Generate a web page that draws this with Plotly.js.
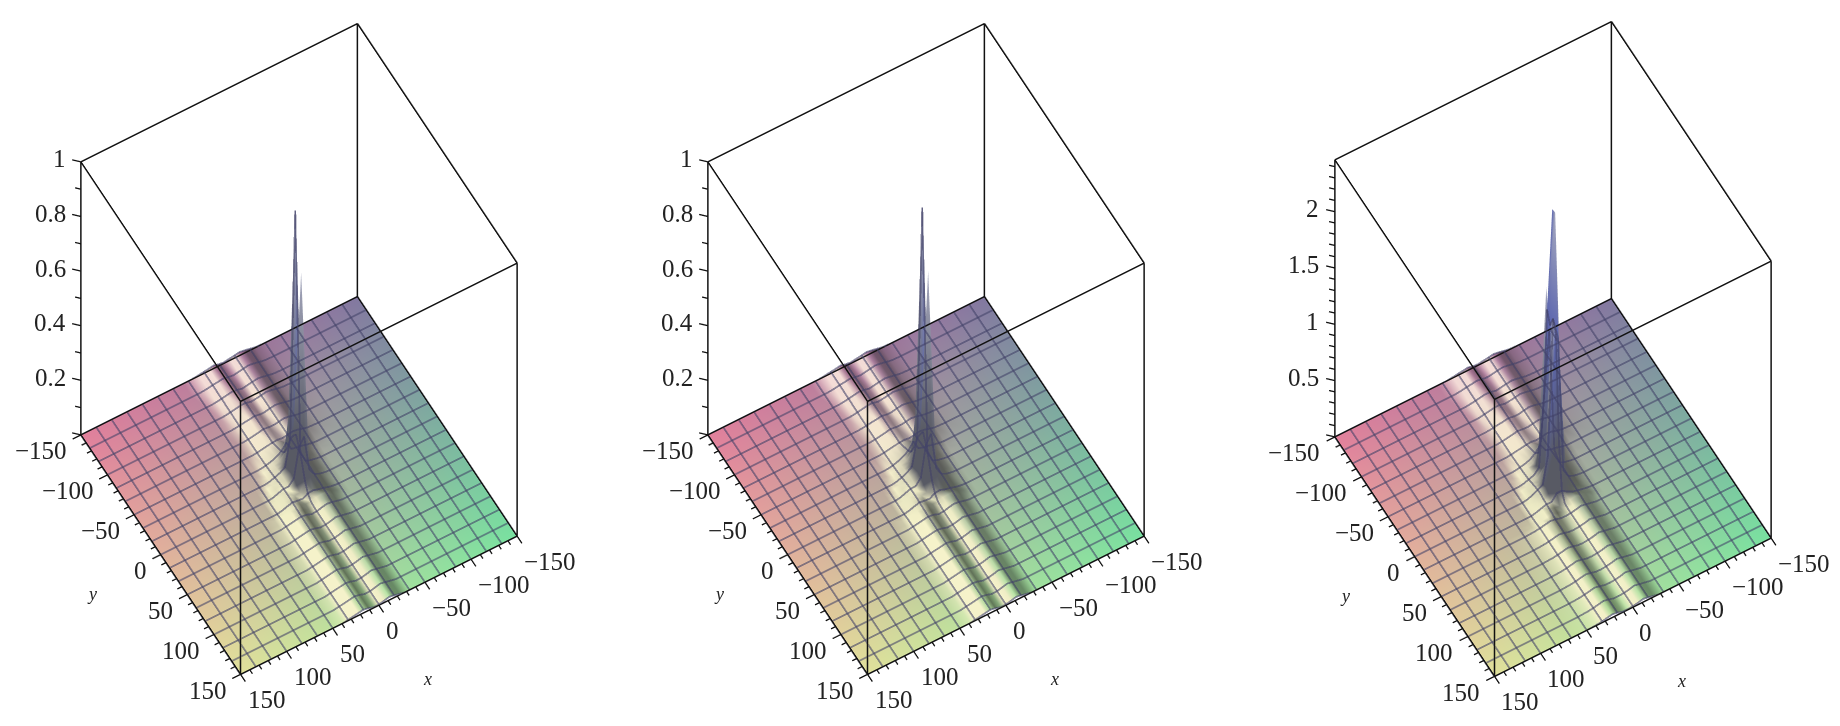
<!DOCTYPE html>
<html><head><meta charset="utf-8">
<script src="https://cdn.plot.ly/plotly-3.0.1.min.js"></script>
<style>html,body{margin:0;padding:0;background:#fff;width:1840px;height:726px;overflow:hidden}#p{width:1840px;height:726px}</style>
</head><body><div id="p"></div>
<script>
// ---------- sampled nodes ----------
const xNodes=[-150,-133.33,-116.67,-100,-83.33,-66.67,-50,-38.89,-33.33,-27.78,-22.22,-16.67,-11.11,-5.56,0,5.56,11.11,16.67,22.22,27.78,33.33,38.89,50,66.67,83.33,100,116.67,133.33,150];
const xCentral=[-38.89,-33.33,-27.78,-22.22,-16.67,-11.11,-5.56,0,5.56,11.11,16.67,22.22,27.78,33.33,38.89];
const yNodes=[-150,-133.33,-116.67,-100,-83.33,-66.67,-50,-33.33,-27.78,-22.22,-16.67,-11.11,-5.56,0,5.56,11.11,16.67,22.22,27.78,33.33,50,66.67,83.33,100,116.67,133.33,150];
const meshLines=[-150,-133.33,-116.67,-100,-83.33,-66.67,-50,-33.33,-16.67,0,16.67,33.33,50,66.67,83.33,100,116.67,133.33,150];
// ---------- heights in thousandths, one row per yNodes, one column per xCentral ----------
const heightsLeft=[
[2,6,10,13,10,7,4,6,11,8,6,3,1,0,0],
[2,6,10,13,10,7,4,7,11,8,6,3,1,0,0],
[2,6,10,13,10,7,4,9,11,8,5,2,0,0,0],
[2,6,10,13,10,7,5,10,10,7,4,1,0,0,0],
[2,6,11,14,11,7,7,11,8,6,3,1,0,0,0],
[2,6,11,14,11,8,9,12,8,5,2,0,0,0,0],
[2,6,12,15,12,9,12,11,8,5,2,0,0,0,0],
[0,2,6,11,14,18,50,28,16,9,4,1,0,0,0],
[0,1,4,9,14,28,120,40,18,10,5,1,0,0,0],
[0,0,3,8,14,40,300,70,25,14,7,2,0,0,0],
[0,0,3,7,14,55,950,120,28,16,9,3,0,0,0],
[0,0,2,7,15,60,330,150,35,18,12,5,1,0,0],
[0,0,2,7,15,55,755,170,40,18,15,7,2,0,0],
[0,0,2,6,14,40,170,140,35,16,16,10,3,0,0],
[0,0,2,5,13,28,110,100,25,14,16,11,4,0,0],
[0,0,2,5,13,20,55,50,16,14,16,11,4,0,0],
[0,0,2,6,12,16,22,20,10,12,15,10,4,0,0],
[0,0,2,7,12,14,12,7,6,12,14,9,5,2,0],
[0,0,1,5,10,13,10,4,3,10,13,9,5,2,0],
[0,0,0,4,9,12,8,3,2,9,12,9,6,3,0],
[0,0,0,4,8,12,7,3,2,8,12,9,6,3,0],
[0,0,0,4,8,12,7,3,2,8,12,9,6,3,0],
[0,0,0,4,8,12,7,3,2,8,12,9,6,3,0],
[0,0,0,4,8,12,7,3,2,8,12,9,6,3,0],
[0,0,0,4,8,12,7,3,2,8,12,9,6,3,0],
[0,0,0,4,8,12,7,3,2,8,12,9,6,3,0],
[0,0,0,4,8,12,7,3,2,8,12,9,6,3,0]];
const heightsMiddle=[
[2,6,10,13,10,7,4,6,11,8,6,3,1,0,0],
[2,6,10,13,10,7,4,7,11,8,6,3,1,0,0],
[2,6,10,13,10,7,4,9,11,8,5,2,0,0,0],
[2,6,10,13,10,7,5,10,10,7,4,1,0,0,0],
[2,6,11,14,11,7,7,11,8,6,3,1,0,0,0],
[2,6,11,14,11,8,9,12,8,5,2,0,0,0,0],
[2,6,12,15,12,9,12,11,8,5,2,0,0,0,0],
[0,2,6,11,15,20,55,30,18,10,4,1,0,0,0],
[0,1,4,9,15,30,130,42,20,11,5,1,0,0,0],
[0,0,3,8,15,44,310,75,27,15,7,2,0,0,0],
[0,0,3,7,15,60,960,125,30,17,9,3,0,0,0],
[0,0,2,7,16,65,340,155,37,19,12,5,1,0,0],
[0,0,2,7,16,60,760,180,42,19,15,7,2,0,0],
[0,0,2,6,15,44,180,150,38,17,16,10,3,0,0],
[0,0,2,5,14,30,115,105,27,15,16,11,4,0,0],
[0,0,2,5,13,21,58,52,17,14,16,11,4,0,0],
[0,0,2,6,12,16,23,21,10,12,15,10,4,0,0],
[0,0,2,7,12,14,12,7,6,12,14,9,5,2,0],
[0,0,1,5,10,13,10,4,3,10,13,9,5,2,0],
[0,0,0,4,9,12,8,3,2,9,12,9,6,3,0],
[0,0,0,4,8,12,7,3,2,8,12,9,6,3,0],
[0,0,0,4,8,12,7,3,2,8,12,9,6,3,0],
[0,0,0,4,8,12,7,3,2,8,12,9,6,3,0],
[0,0,0,4,8,12,7,3,2,8,12,9,6,3,0],
[0,0,0,4,8,12,7,3,2,8,12,9,6,3,0],
[0,0,0,4,8,12,7,3,2,8,12,9,6,3,0],
[0,0,0,4,8,12,7,3,2,8,12,9,6,3,0]];
const heightsRight=[
[5,14,24,31,24,17,10,14,26,19,14,7,2,0,0],
[5,14,24,31,24,17,10,17,26,19,14,7,2,0,0],
[5,14,24,31,24,17,10,22,26,19,12,5,0,0,0],
[5,14,24,31,24,17,12,24,24,17,10,2,0,0,0],
[5,14,26,34,26,17,17,26,19,14,7,2,0,0,0],
[5,14,26,34,26,19,22,29,19,12,5,0,0,0,0],
[5,14,29,36,29,22,29,26,19,12,5,0,0,0,0],
[0,2,12,26,32,50,120,70,36,20,10,2,0,0,0],
[0,2,10,22,34,70,280,110,42,24,12,2,0,0,0],
[0,0,7,18,36,110,1600,280,60,30,17,5,0,0,0],
[0,0,7,17,36,170,1250,700,80,36,22,7,0,0,0],
[0,0,5,17,36,200,2370,1500,110,45,31,12,2,0,0],
[0,0,5,17,36,170,2380,1400,180,55,41,17,5,0,0],
[0,0,5,14,34,110,1300,1500,300,70,48,24,7,0,0],
[0,0,5,12,30,70,400,1400,800,90,50,26,10,0,0],
[0,0,5,12,28,48,150,480,420,70,42,26,10,0,0],
[0,0,5,14,24,36,60,90,90,34,38,24,10,0,0],
[0,0,5,17,24,34,26,16,14,22,34,26,12,2,0],
[0,0,2,12,20,30,22,10,7,16,32,24,14,5,0],
[0,0,0,10,19,29,18,9,5,8,22,29,20,11,5],
[0,0,0,10,19,29,17,9,5,6,19,29,20,11,5],
[0,0,0,10,19,29,17,9,5,6,19,29,20,11,5],
[0,0,0,10,19,29,17,9,5,6,19,29,20,11,5],
[0,0,0,10,19,29,17,9,5,6,19,29,20,11,5],
[0,0,0,10,19,29,17,9,5,6,19,29,20,11,5],
[0,0,0,10,19,29,17,9,5,6,19,29,20,11,5],
[0,0,0,10,19,29,17,9,5,6,19,29,20,11,5]];
// ---------- axis ticks ----------
const xyMajor=[-150,-100,-50,0,50,100,150];
const xyMinor=[-140,-130,-120,-110,-90,-80,-70,-60,-40,-30,-20,-10,10,20,30,40,60,70,80,90,110,120,130,140];
const zMajorSmall=[0.2,0.4,0.6,0.8,1];
const zMinorSmall=[0.1,0.3,0.5,0.7,0.9];
const zMajorTall=[0.5,1,1.5,2];
const zMinorTall=[0.1,0.2,0.3,0.4,0.6,0.7,0.8,0.9,1.1,1.2,1.3,1.4,1.6,1.7,1.8,1.9,2.1,2.2,2.3,2.4];
// ---------- styles ----------
const PIXW=1840, PIXH=726, PANEL_H=698, EYE=3.2, ZOOM=0.915;
const corners={pink:[226,128,156],purple:[130,120,160],green:[120,225,160],yellow:[225,225,155]};
const SERIF='"Liberation Serif","Times New Roman",serif', TICKSIZE=25;

function mix(a,b,t){return [a[0]+(b[0]-a[0])*t,a[1]+(b[1]-a[1])*t,a[2]+(b[2]-a[2])*t];}
function clamp(v){return Math.max(0,Math.min(1,v));}
function heightAt(table,r,c){
  const x=xNodes[c], k=xCentral.indexOf(x);
  return k<0?0:table[r][k]/1000;
}
function sceneLayout(zmax,cx,pw,zAspect,annotations){
  const ax=(rng)=>({visible:false,range:rng,autorange:false});
  const K2=200/150*ZOOM;
  return {domain:{x:[(cx-pw/2)/PIXW,(cx+pw/2)/PIXW],y:[1-PANEL_H/PIXH,1]},bgcolor:'rgba(0,0,0,0)',
    xaxis:ax([-200,200]),yaxis:ax([-200,200]),zaxis:ax([zmax/2-zmax*0.7,zmax/2+zmax*0.7]),
    aspectmode:'manual',aspectratio:{x:K2,y:K2,z:zAspect*1.4*ZOOM},
    camera:{projection:{type:'orthographic'},center:{x:0,y:0,z:0},up:{x:0,y:0,z:1},
      eye:{x:0.25*EYE,y:0.433*EYE,z:0.866*EYE}},
    annotations:annotations,dragmode:false};
}
function panel(table,zmax,sceneId,overId,cx,pw,zAspect,zMajor,zMinor){
  const X=[],Y=[],Z=[],C=[],I=[],J=[],K=[];
  const nx=xNodes.length, ny=yNodes.length;
  const H=yNodes.map((_,r)=>xNodes.map((_,c)=>heightAt(table,r,c)));
  for(let r=0;r<ny;r++)for(let c=0;c<nx;c++){
    const x=xNodes[c],y=yNodes[r],z=H[r][c];
    const u=(x+150)/300,v=(y+150)/300;
    let col=mix(mix(corners.purple,corners.pink,u),mix(corners.green,corners.yellow,u),v);
    const c0=Math.max(c-1,0),c1=Math.min(c+1,nx-1),r0=Math.max(r-1,0),r1=Math.min(r+1,ny-1);
    const gx=(H[r][c1]-H[r][c0])/(xNodes[c1]-xNodes[c0])/zmax;
    const gy=(H[r1][c]-H[r0][c])/(yNodes[r1]-yNodes[r0])/zmax;
    const lit=clamp(-gx/4.5e-4), dark=clamp(gx/0.9e-3);
    col=mix(col,mix([252,226,222],[255,252,208],clamp(v/0.5)),lit);
    col=col.map(q=>q*(1-0.45*dark));
    const steep=clamp((Math.abs(gx)+Math.abs(gy))/0.009);
    col=mix(col,[88,90,100],steep);
    if(z/zmax>0.25) col=mix(col,[92,102,175],clamp((z/zmax-0.25)/0.1));
    const peak=z>=H[r][c0]&&z>=H[r][c1]&&z>=H[r0][c]&&z>=H[r1][c];
    if(peak&&z/zmax>0.5) col=[165,168,190];
    X.push(x);Y.push(y);Z.push(z);
    C.push('rgb('+col.map(q=>Math.round(q)).join(',')+')');
  }
  for(let r=0;r<ny-1;r++)for(let c=0;c<nx-1;c++){
    const a=r*nx+c,b=a+1,d=a+nx,e=d+1;
    I.push(a,b);J.push(b,e);K.push(d,d);
  }
  const traces=[];
  traces.push({type:'mesh3d',scene:sceneId,x:X,y:Y,z:Z,i:I,j:J,k:K,vertexcolor:C,hoverinfo:'skip',
    lighting:{ambient:1,diffuse:0,specular:0,roughness:1,fresnel:0},flatshading:false,showscale:false});
  // wireframe through the same nodes, drawn in an overlay scene with the same camera
  const gx=[],gy=[],gz=[];
  meshLines.forEach(v=>{
    const r=yNodes.indexOf(v);
    xNodes.forEach((x,c)=>{gx.push(x);gy.push(v);gz.push(H[r][c]);});
    gx.push(null);gy.push(null);gz.push(null);
    const c=xNodes.indexOf(v);
    yNodes.forEach((y,q)=>{gx.push(v);gy.push(y);gz.push(H[q][c]);});
    gx.push(null);gy.push(null);gz.push(null);
  });
  traces.push({type:'scatter3d',scene:overId,mode:'lines',x:gx,y:gy,z:gz,hoverinfo:'skip',opacity:0.58,
    line:{color:'rgb(66,66,104)',width:3.6},showlegend:false});
  // box
  const L=-150,R=150, bx=[],by=[],bz=[];
  const seg=(a,b)=>{bx.push(a[0],b[0],null);by.push(a[1],b[1],null);bz.push(a[2],b[2],null);};
  [[L,L],[L,R],[R,R],[R,L]].forEach((p,i,arr)=>{
    const q=arr[(i+1)%4];
    seg([p[0],p[1],0],[q[0],q[1],0]);
    seg([p[0],p[1],zmax],[q[0],q[1],zmax]);
    seg([p[0],p[1],0],[p[0],p[1],zmax]);
  });
  traces.push({type:'scatter3d',scene:overId,mode:'lines',x:bx,y:by,z:bz,hoverinfo:'skip',
    line:{color:'#111',width:3},showlegend:false});
  // ticks
  const tx=[],ty=[],tz=[];
  const tick=(a,b)=>{tx.push(a[0],b[0],null);ty.push(a[1],b[1],null);tz.push(a[2],b[2],null);};
  xyMajor.forEach(t=>{tick([t,150,0],[t,159,0]);tick([150,t,0],[159,t,0]);});
  xyMinor.forEach(t=>{tick([t,150,0],[t,155,0]);tick([150,t,0],[155,t,0]);});
  tick([150,-150,0],[156,-156,0]);
  zMajor.forEach(t=>tick([150,-150,t],[156,-156,t]));
  zMinor.forEach(t=>tick([150,-150,t],[154,-154,t]));
  traces.push({type:'scatter3d',scene:overId,mode:'lines',x:tx,y:ty,z:tz,hoverinfo:'skip',
    line:{color:'#111',width:2.6},showlegend:false});
  // labels
  const lab=t=>t<0?'\u2212'+Math.abs(t):String(t), ann=[];
  const f={family:SERIF,size:TICKSIZE,color:'#222'};
  const base={showarrow:false,font:f};
  xyMajor.forEach(t=>{
    ann.push({...base,x:t,y:150,z:0,text:lab(t),xanchor:'left',yanchor:'middle',xshift:5,yshift:-25});
    ann.push({...base,x:150,y:t,z:0,text:lab(t),xanchor:'right',yanchor:'middle',xshift:-12,yshift:-16});
  });
  zMajor.forEach(t=>ann.push({...base,x:150,y:-150,z:t,text:String(t),xanchor:'right',yanchor:'middle',xshift:-13,yshift:3}));
  const tf={family:SERIF,size:18,color:'#222'};
  ann.push({showarrow:false,font:tf,x:0,y:150,z:0,text:'<i>x</i>',xshift:49,yshift:-74});
  ann.push({showarrow:false,font:tf,x:150,y:0,z:0,text:'<i>y</i>',xshift:-69,yshift:-39});
  return {traces,scene:sceneLayout(zmax,cx,pw,zAspect,[]),over:sceneLayout(zmax,cx,pw,zAspect,ann)};
}
const a=panel(heightsLeft,1,'scene','scene2',299,598,1.71,zMajorSmall,zMinorSmall);
const b=panel(heightsMiddle,1,'scene3','scene4',926,598,1.71,zMajorSmall,zMinorSmall);
const c=panel(heightsRight,2.46,'scene5','scene6',1552.5,574,1.735,zMajorTall,zMinorTall);
Plotly.newPlot('p',[...a.traces,...b.traces,...c.traces],{
  width:PIXW,height:PIXH,margin:{l:0,r:0,t:0,b:0},paper_bgcolor:'#fff',showlegend:false,
  scene:a.scene,scene2:a.over,scene3:b.scene,scene4:b.over,scene5:c.scene,scene6:c.over},{displayModeBar:false});
</script></body></html>
